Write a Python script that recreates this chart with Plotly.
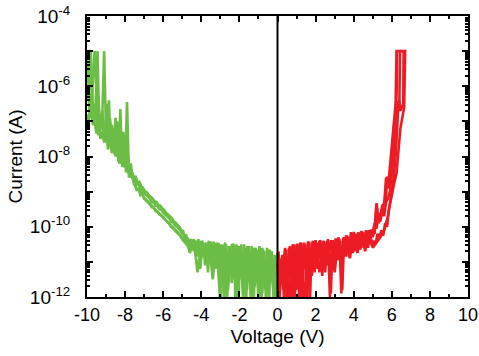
import plotly.graph_objects as go

# ---------------- data (log10 of current in A) ----------------
g1_v = [-10.0, -9.9, -9.8, -9.7, -9.6, -9.5, -9.4, -9.3, -9.2, -9.1,
        -9.0, -8.9, -8.8, -8.7, -8.6, -8.5, -8.4, -8.3, -8.2, -8.1,
        -8.0, -7.9, -7.8, -7.7, -7.6, -7.5, -7.4, -7.3, -7.2, -7.1,
        -7.0, -6.9, -6.8, -6.7, -6.6, -6.5, -6.4, -6.3, -6.2, -6.1,
        -6.0, -5.9, -5.8, -5.7, -5.6, -5.5, -5.4, -5.3, -5.2, -5.1,
        -5.0, -4.9, -4.8, -4.7, -4.6, -4.5, -4.4, -4.3, -4.2, -4.1,
        -4.0, -3.9, -3.8, -3.7, -3.6, -3.5, -3.4, -3.3, -3.2, -3.1,
        -3.0, -2.9, -2.8, -2.7, -2.6, -2.5, -2.4, -2.3, -2.2, -2.1,
        -2.0, -1.9, -1.8, -1.7, -1.6, -1.5, -1.4, -1.3, -1.2, -1.1,
        -1.0, -0.9, -0.8, -0.7, -0.6, -0.5, -0.4, -0.3, -0.2, -0.1, 0.0]
g1_log = [-5.0, -6.3, -5.0, -6.8, -6.5, -7.0, -6.6, -7.2, -6.9, -5.0,
          -7.3, -6.5, -7.6, -7.1, -7.7, -6.9, -7.9, -7.4, -8.1, -7.3,
          -8.3, -6.45, -8.5, -8.2, -8.65, -8.6, -8.8, -8.75, -8.95, -8.9,
          -9.05, -9.1, -9.15, -9.2, -9.3, -9.3, -9.4, -9.42, -9.5, -9.52,
          -9.6, -9.65, -9.72, -9.75, -9.85, -9.88, -9.95, -10.0, -10.05, -10.1,
          -10.2, -10.25, -10.3, -10.35, -10.6, -10.38, -10.7, -10.4, -10.85, -10.42,
          -10.9, -10.45, -11.1, -10.5, -10.95, -10.42, -11.2, -10.5, -11.0, -10.45,
          -11.4, -10.55, -12.2, -10.5, -11.3, -10.6, -11.6, -10.5, -12.2, -10.55,
          -11.5, -10.5, -12.2, -10.6, -11.8, -10.55, -12.2, -10.6, -11.7, -10.65,
          -12.2, -10.6, -11.9, -10.7, -12.2, -10.65, -11.5, -10.7, -12.2, -10.9, -11.0]

g2_v = [-9.95, -9.85, -9.75, -9.65, -9.55, -9.45, -9.35, -9.25, -9.15, -9.05,
        -8.95, -8.85, -8.75, -8.65, -8.55, -8.45, -8.35, -8.25, -8.15, -8.05,
        -7.95, -7.85, -7.75, -7.65, -7.55, -7.45, -7.35, -7.25, -7.15, -7.05,
        -6.95, -6.85, -6.75, -6.65, -6.55, -6.45, -6.35, -6.25, -6.15, -6.05,
        -5.95, -5.85, -5.75, -5.65, -5.55, -5.45, -5.35, -5.25, -5.15, -5.05,
        -4.95, -4.85, -4.75, -4.65, -4.55, -4.45, -4.35, -4.25, -4.15, -4.05,
        -3.95, -3.85, -3.75, -3.65, -3.55, -3.45, -3.35, -3.25, -3.15, -3.05,
        -2.95, -2.85, -2.75, -2.65, -2.55, -2.45, -2.35, -2.25, -2.15, -2.05,
        -1.95, -1.85, -1.75, -1.65, -1.55, -1.45, -1.35, -1.25, -1.15, -1.05,
        -0.95, -0.85, -0.75, -0.65, -0.55, -0.45, -0.35, -0.25, -0.15, -0.05]
g2_log = [-5.0, -5.0, -6.0, -7.0, -6.6, -5.0, -7.3, -6.8, -7.4, -7.0,
          -7.6, -6.4, -7.75, -7.2, -7.95, -7.5, -8.15, -6.65, -8.3, -7.6,
          -8.45, -8.0, -8.6, -8.45, -8.75, -8.55, -8.75, -8.72, -8.85, -8.9,
          -9.0, -9.02, -9.1, -9.15, -9.2, -9.28, -9.3, -9.38, -9.4, -9.48,
          -9.52, -9.6, -9.65, -9.72, -9.75, -9.85, -9.88, -9.95, -10.0, -10.1,
          -10.12, -10.45, -10.3, -10.5, -10.35, -10.55, -10.38, -10.6, -10.35, -11.2,
          -10.4, -10.8, -10.45, -11.3, -10.5, -10.8, -10.42, -11.2, -10.48, -11.6,
          -10.5, -11.0, -10.45, -12.2, -10.55, -11.1, -10.48, -11.5, -10.5, -12.2,
          -10.55, -11.2, -10.5, -12.2, -10.6, -11.4, -10.55, -12.2, -10.6, -11.6,
          -10.55, -12.2, -10.65, -11.8, -10.6, -12.2, -10.75, -11.6, -10.8, -12.2]

g3_v = [-10.0, -9.8, -9.6, -9.4, -9.2, -9.0, -8.8, -8.6, -8.4, -8.2,
        -8.0, -7.8, -7.6, -7.4, -7.2, -7.0, -6.8, -6.6, -6.4, -6.2,
        -6.0, -5.8, -5.6, -5.4, -5.2, -5.0, -4.8, -4.6, -4.4, -4.2,
        -4.0, -3.8, -3.6, -3.4, -3.2, -3.0, -2.8, -2.6, -2.4, -2.2,
        -2.0, -1.8, -1.6, -1.4, -1.2, -1.0, -0.8, -0.6, -0.4, -0.2, 0.0]
g3_log = [-6.0, -6.9, -5.0, -7.4, -6.7, -7.6, -6.9, -7.85, -7.0, -8.2,
          -7.5, -8.55, -8.5, -8.92, -8.97, -9.17, -9.27, -9.4, -9.52, -9.62,
          -9.72, -9.85, -9.97, -10.07, -10.17, -10.35, -10.22, -10.75, -10.35, -11.3,
          -10.4, -10.8, -10.4, -11.5, -10.45, -12.2, -10.5, -11.8, -10.5, -11.2,
          -10.55, -11.9, -10.55, -11.4, -10.6, -11.8, -10.6, -11.6, -10.65, -11.9, -10.75]

g4_v = [-10.0, -9.9, -9.8, -9.7, -9.6, -9.5, -9.4, -9.3, -9.2, -9.1,
        -9.0, -8.9, -8.8, -8.7, -8.6, -8.5, -8.4, -8.3, -8.2, -8.1,
        -8.0, -7.9, -7.8, -7.7]
g4_log = [-6.8, -7.0, -6.2, -7.1, -7.0, -7.35, -6.3, -7.5, -7.3, -7.6,
          -7.2, -7.8, -7.4, -7.9, -7.5, -8.0, -7.7, -8.2, -7.9, -8.3,
          -8.1, -8.45, -8.3, -8.6]

g5_v = [-7.6, -7.5, -7.4, -7.3, -7.2, -7.1, -7.0, -6.9, -6.8, -6.7,
        -6.6, -6.5, -6.4, -6.3, -6.2, -6.1, -6.0, -5.9, -5.8, -5.7,
        -5.6, -5.5, -5.4, -5.3, -5.2, -5.1, -5.0, -4.9, -4.8, -4.7, -4.6]
g5_log = [-8.8, -8.78, -8.95, -8.92, -9.1, -9.06, -9.2, -9.25, -9.3, -9.36,
          -9.45, -9.46, -9.55, -9.58, -9.65, -9.68, -9.75, -9.8, -9.87, -9.9,
          -10.0, -10.03, -10.1, -10.15, -10.2, -10.26, -10.35, -10.42, -10.5, -10.55, -10.7]

r1_v = [0.0, 0.1, 0.2, 0.3, 0.4, 0.5, 0.6, 0.7, 0.8, 0.9,
        1.0, 1.1, 1.2, 1.3, 1.4, 1.5, 1.6, 1.7, 1.8, 1.9,
        2.0, 2.1, 2.2, 2.3, 2.4, 2.5, 2.6, 2.7, 2.8, 2.9,
        3.0, 3.1, 3.2, 3.3, 3.4, 3.5, 3.6, 3.7, 3.8, 3.9,
        4.0, 4.1, 4.2, 4.3, 4.4, 4.5, 4.6, 4.7, 4.8, 4.9,
        5.0, 5.1, 5.2, 5.3, 5.4, 5.5, 5.6, 5.7, 5.8, 5.9,
        6.0, 6.1, 6.2, 6.25, 6.5]
r1_log = [-11.0, -12.2, -10.9, -11.8, -10.75, -12.2, -10.6, -11.5, -10.55, -12.2,
          -10.5, -11.4, -10.5, -12.2, -10.45, -11.2, -10.48, -12.2, -10.45, -11.0,
          -10.42, -11.2, -10.4, -10.9, -10.45, -11.3, -10.4, -10.85, -11.9, -10.38,
          -11.0, -10.35, -10.9, -10.4, -11.8, -10.3, -10.85, -10.28, -10.75, -10.2,
          -10.7, -10.2, -10.65, -10.18, -10.6, -10.15, -10.55, -10.12, -10.5, -10.08,
          -10.3, -10.0, -9.35, -9.85, -9.7, -9.4, -9.35, -8.6, -8.9, -8.3,
          -7.7, -7.2, -6.5, -5.0, -5.0]

r2_v = [0.05, 0.15, 0.25, 0.35, 0.45, 0.55, 0.65, 0.75, 0.85, 0.95,
        1.05, 1.15, 1.25, 1.35, 1.45, 1.55, 1.65, 1.75, 1.85, 1.95,
        2.05, 2.15, 2.25, 2.35, 2.45, 2.55, 2.65, 2.75, 2.85, 2.95,
        3.05, 3.15, 3.25, 3.35, 3.45, 3.55, 3.65, 3.75, 3.85, 3.95,
        4.05, 4.15, 4.25, 4.35, 4.45, 4.55, 4.65, 4.75, 4.85, 4.95,
        5.05, 5.15, 5.25, 5.35, 5.45, 5.55, 5.65, 5.75, 5.85, 5.95,
        6.05, 6.15, 6.25, 6.35, 6.45, 6.55, 6.65, 6.7, 6.45]
r2_log = [-10.7, -11.6, -10.8, -12.2, -10.65, -11.3, -10.55, -12.2, -10.5, -11.2,
          -10.48, -12.2, -10.45, -11.0, -10.5, -12.2, -10.42, -11.1, -10.4, -11.3,
          -10.45, -10.95, -10.38, -11.4, -10.42, -10.9, -10.35, -12.0, -10.4, -11.1,
          -10.33, -10.95, -10.35, -11.9, -10.3, -10.8, -10.25, -10.85, -10.15, -10.75,
          -10.2, -10.7, -10.15, -10.65, -10.15, -10.6, -10.1, -10.6, -10.1, -10.55,
          -10.4, -10.5, -10.2, -10.3, -10.1, -10.25, -9.9, -10.0, -9.5, -9.2,
          -8.95, -8.7, -8.47, -7.8, -7.2, -6.9, -6.6, -5.0, -5.0]

r3_v = [4.9, 5.1, 5.2, 5.3, 5.5, 5.6, 5.7, 5.75, 5.8, 5.9, 6.0, 6.1, 6.2, 6.3, 6.4, 6.43]
r3_log = [-10.1, -10.2, -9.33, -9.9, -9.6, -9.3, -9.2, -8.57, -8.9, -8.7, -8.0, -7.2,
          -6.8, -6.5, -6.4, -5.0]

r4_v = [0.0, 0.2, 0.4, 0.6, 0.8, 1.0, 1.2, 1.4, 1.6, 1.8,
        2.0, 2.2, 2.4, 2.6, 2.8, 3.0, 3.2, 3.4, 3.6, 3.8,
        4.0, 4.2, 4.4, 4.6, 4.8, 5.0, 5.2, 5.4, 5.6, 5.8,
        6.0, 6.1, 6.2, 6.3, 6.35, 6.4, 6.45, 6.6, 6.62]
r4_log = [-10.95, -11.5, -10.6, -12.2, -10.5, -11.8, -10.45, -12.2, -10.42, -11.4,
          -10.38, -11.3, -10.4, -11.1, -10.38, -11.3, -10.3, -11.0, -10.25, -10.9,
          -10.15, -10.75, -10.12, -10.7, -10.1, -10.6, -10.45, -10.3, -10.1, -9.7,
          -9.0, -8.6, -8.0, -7.0, -6.5, -6.4, -6.7, -6.5, -5.0]

r5_v = [4.8, 4.9, 5.0, 5.1, 5.2, 5.3, 5.4, 5.5, 5.6, 5.7,
        5.8, 5.9, 6.0, 6.1, 6.15, 6.2, 6.26, 6.27]
r5_log = [-10.3, -10.2, -10.15, -9.9, -10.05, -9.6, -9.85, -9.5, -9.7, -9.3,
          -9.2, -9.0, -8.5, -8.0, -7.5, -7.0, -6.1, -5.0]

green_sweeps = [(g1_v, g1_log), (g2_v, g2_log), (g3_v, g3_log), (g4_v, g4_log), (g5_v, g5_log)]
red_sweeps = [(r1_v, r1_log), (r2_v, r2_log), (r3_v, r3_log), (r4_v, r4_log), (r5_v, r5_log)]

x_tick_vals = [-10, -8, -6, -4, -2, 0, 2, 4, 6, 8, 10]
x_tick_text = ["-10", "-8", "-6", "-4", "-2", "0", "2", "4", "6", "8", "10"]
y_tick_exps = [-12, -11, -10, -9, -8, -7, -6, -5, -4]

GREEN = "#6cbd45"
RED = "#ed1c24"
FONT = "Liberation Sans, Arial, sans-serif"

fig = go.Figure()
for v, lg in green_sweeps:
    fig.add_trace(go.Scatter(x=v, y=[10 ** e for e in lg], mode="lines",
                             line=dict(color=GREEN, width=2.6), showlegend=False))
for v, lg in red_sweeps:
    fig.add_trace(go.Scatter(x=v, y=[10 ** e for e in lg], mode="lines",
                             line=dict(color=RED, width=2.6), showlegend=False))

fig.add_vline(x=0, line=dict(color="black", width=2))

y_tick_vals = [10 ** e for e in y_tick_exps]
y_tick_text = [("10<sup>%d</sup>" % e) if e % 2 == 0 else "" for e in y_tick_exps]

axis_common = dict(showline=True, linecolor="black", linewidth=2, mirror="ticks",
                   ticks="inside", tickcolor="black", tickwidth=1.5, ticklen=6,
                   showgrid=False, zeroline=False, automargin=False)

fig.update_xaxes(range=[-10, 10], tickvals=x_tick_vals, ticktext=x_tick_text,
                 tickfont=dict(family=FONT, size=18, color="black"),
                 minor=dict(ticks="inside", ticklen=3, dtick=1, tickcolor="black", showgrid=False),
                 title=dict(text="Voltage (V)", font=dict(family=FONT, size=19, color="black"),
                            standoff=6),
                 **axis_common)
fig.update_yaxes(type="log", range=[-12, -4], tickvals=y_tick_vals, ticktext=y_tick_text,
                 tickfont=dict(family=FONT, size=19, color="black"),
                 minor=dict(ticks="inside", ticklen=3, dtick="D1", tickcolor="black", showgrid=False),
                 title=dict(text="Current (A)", font=dict(family=FONT, size=19, color="black"),
                            standoff=2),
                 ticklabelstandoff=11,
                 **axis_common)

fig.update_layout(width=479, height=356, margin=dict(l=87, r=11, t=16, b=59),
                  plot_bgcolor="white", paper_bgcolor="white",
                  font=dict(family=FONT, color="black"))

fig.write_html("out.html")
